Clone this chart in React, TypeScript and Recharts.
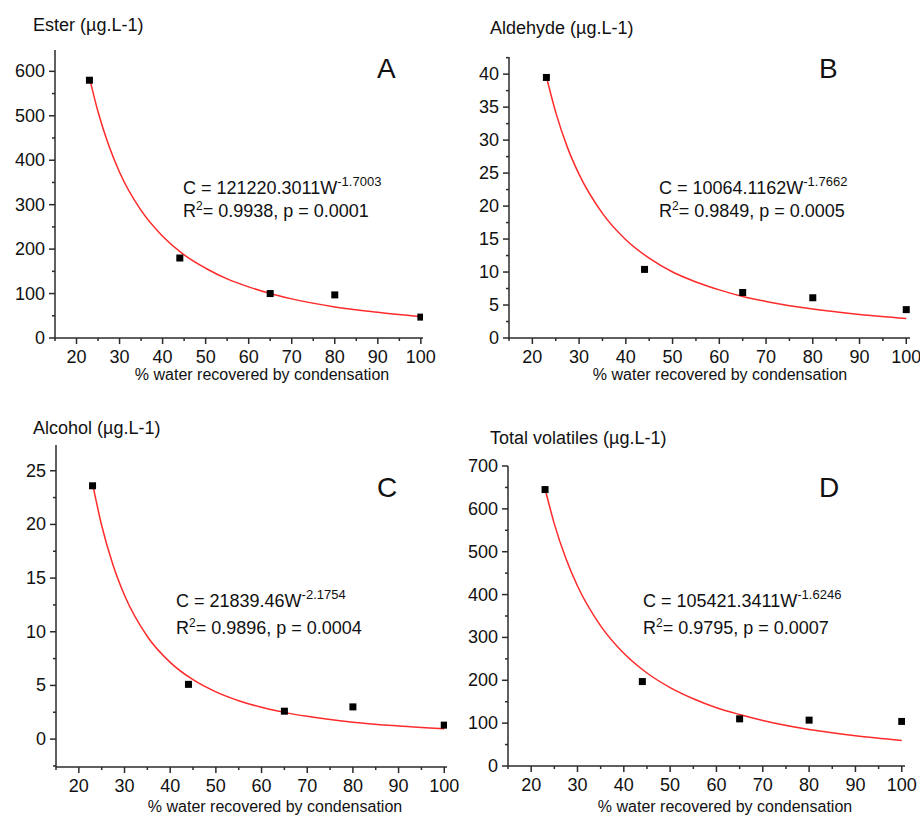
import { ComposedChart, Line, Scatter, XAxis, YAxis } from "recharts";

// measured concentrations at each % of water recovered
const W_POINTS = [23, 44, 65, 80, 100];
const ESTER = [580, 180, 100, 97, 47];
const ALDEHYDE = [39.5, 10.4, 6.9, 6.1, 4.3];
const ALCOHOL = [23.6, 5.1, 2.6, 3.0, 1.3];
const TOTAL = [645, 197, 110, 107, 104];

// fitted power curves
const FIT_W = [23, 25, 27.5, 30, 35, 40, 45, 50, 55, 60, 65, 70, 80, 90, 100];
const ESTER_FIT = [586, 509, 433, 373, 287, 229, 187, 157, 133, 115, 100, 88, 70, 58, 48];
const ALDEHYDE_FIT = [39.6, 34.2, 28.9, 24.8, 18.9, 14.9, 12.1, 10.0, 8.5, 7.3, 6.3, 5.55, 4.38, 3.56, 2.95];
const ALCOHOL_FIT = [23.8, 19.9, 16.2, 13.4, 9.56, 7.15, 5.53, 4.4, 3.58, 2.96, 2.49, 2.12, 1.58, 1.23, 0.97];
const TOTAL_FIT = [647, 565, 484, 420, 327, 263, 217, 183, 157, 136, 120, 106, 85, 70.5, 59.4];

const X_TICKS = [15, 20, 25, 30, 35, 40, 45, 50, 55, 60, 65, 70, 75, 80, 85, 90, 95, 100];
const ESTER_TICKS = [0, 50, 100, 150, 200, 250, 300, 350, 400, 450, 500, 550, 600];
const ALDEHYDE_TICKS = [0, 2.5, 5, 7.5, 10, 12.5, 15, 17.5, 20, 22.5, 25, 27.5, 30, 32.5, 35, 37.5, 40, 42.5];
const ALCOHOL_TICKS = [-2.5, 0, 2.5, 5, 7.5, 10, 12.5, 15, 17.5, 20, 22.5, 25];
const TOTAL_TICKS = [0, 50, 100, 150, 200, 250, 300, 350, 400, 450, 500, 550, 600, 650, 700];

const FONT = "'Liberation Sans', Arial, Helvetica, sans-serif";
const AXIS = "#2b2b2b";
const RED = "#ff2a2a";
const X_LABEL = "% water recovered by condensation";

const toRows = (xs: number[], ys: number[]) => xs.map((x, i) => ({ x, y: ys[i] }));

type Panel = {
  key: string;
  title: string;
  letter: string;
  eq: string;
  exp: string;
  stats: string;
  points: number[];
  fit: number[];
  yTicks: number[];
  yMajor: number;
  xDomain: [number, number];
  yDomain: [number, number];
  plot: { x0: number; x1: number; y0: number; y1: number };
  titlePos: [number, number];
  letterPos: [number, number];
  eqPos: [number, number, number];
  xLabelPos: [number, number];
};

const PANELS: Panel[] = [
  {
    key: "A",
    title: "Ester (µg.L-1)",
    letter: "A",
    eq: "C = 121220.3011W",
    exp: "-1.7003",
    stats: "= 0.9938, p = 0.0001",
    points: ESTER,
    fit: ESTER_FIT,
    yTicks: ESTER_TICKS,
    yMajor: 100,
    xDomain: [15, 100.5],
    yDomain: [0, 648],
    plot: { x0: 55, x1: 423, y0: 50, y1: 338 },
    titlePos: [33, 31],
    letterPos: [377, 78],
    eqPos: [183, 194, 217],
    xLabelPos: [262, 380],
  },
  {
    key: "B",
    title: "Aldehyde (µg.L-1)",
    letter: "B",
    eq: "C = 10064.1162W",
    exp: "-1.7662",
    stats: "= 0.9849, p = 0.0005",
    points: ALDEHYDE,
    fit: ALDEHYDE_FIT,
    yTicks: ALDEHYDE_TICKS,
    yMajor: 5,
    xDomain: [15, 100.8],
    yDomain: [0, 42.6],
    plot: { x0: 509, x1: 910, y0: 57, y1: 338 },
    titlePos: [490, 34],
    letterPos: [819, 78],
    eqPos: [659, 194, 217],
    xLabelPos: [720, 380],
  },
  {
    key: "C",
    title: "Alcohol (µg.L-1)",
    letter: "C",
    eq: "C = 21839.46W",
    exp: "-2.1754",
    stats: "= 0.9896, p = 0.0004",
    points: ALCOHOL,
    fit: ALCOHOL_FIT,
    yTicks: ALCOHOL_TICKS,
    yMajor: 5,
    xDomain: [15, 100.6],
    yDomain: [-2.6, 27.4],
    plot: { x0: 56, x1: 447, y0: 445, y1: 767 },
    titlePos: [33, 434],
    letterPos: [377, 497],
    eqPos: [176, 607, 634],
    xLabelPos: [275, 812],
  },
  {
    key: "D",
    title: "Total volatiles (µg.L-1)",
    letter: "D",
    eq: "C = 105421.3411W",
    exp: "-1.6246",
    stats: "= 0.9795, p = 0.0007",
    points: TOTAL,
    fit: TOTAL_FIT,
    yTicks: TOTAL_TICKS,
    yMajor: 100,
    xDomain: [15, 100.7],
    yDomain: [0, 700],
    plot: { x0: 508, x1: 905, y0: 466, y1: 766 },
    titlePos: [490, 444],
    letterPos: [819, 497],
    eqPos: [643, 607, 634],
    xLabelPos: [725, 812],
  },
];

const isMajor = (v: number, step: number) => Math.abs(v / step - Math.round(v / step)) < 1e-6;

function XTick(props: any) {
  const { x, y, payload } = props;
  const major = isMajor(payload.value, 10);
  return (
    <g>
      <line x1={x} x2={x} y1={y} y2={y + (major ? 6 : 3)} stroke={AXIS} strokeWidth={1.5} />
      {major && (
        <text x={x} y={y + 25} textAnchor="middle" fontSize={18} fontFamily={FONT} fill="#111">
          {payload.value}
        </text>
      )}
    </g>
  );
}

const makeYTick = (step: number) => (props: any) => {
  const { x, y, payload } = props;
  const major = isMajor(payload.value, step);
  return (
    <g>
      <line x1={x - (major ? 6 : 3)} x2={x} y1={y} y2={y} stroke={AXIS} strokeWidth={1.5} />
      {major && (
        <text x={x - 10} y={y + 6} textAnchor="end" fontSize={18} fontFamily={FONT} fill="#111">
          {payload.value}
        </text>
      )}
    </g>
  );
};

function Square(props: any) {
  const { cx, cy } = props;
  if (cx == null || cy == null) return null;
  return <rect x={cx - 3.5} y={cy - 3.5} width={7} height={7} fill="#000" />;
}

function PanelChart({ p }: { p: Panel }) {
  const { x0, x1, y0, y1 } = p.plot;
  const left = x0 - 60;
  const top = y0 - 10;
  const width = x1 - x0 + 80;
  const height = y1 - y0 + 60;
  const xTicks = X_TICKS.filter((t) => t >= p.xDomain[0] && t <= p.xDomain[1]);
  return (
    <div style={{ position: "absolute", left, top, width, height }}>
      <ComposedChart width={width} height={height} margin={{ top: 10, right: 20, bottom: 0, left: 0 }}>
        <XAxis
          dataKey="x"
          type="number"
          domain={p.xDomain}
          ticks={xTicks}
          interval={0}
          height={50}
          tickSize={0}
          tickMargin={0}
          tick={XTick}
          axisLine={{ stroke: AXIS, strokeWidth: 1.5 }}
          allowDataOverflow
        />
        <YAxis
          type="number"
          domain={p.yDomain}
          ticks={p.yTicks}
          interval={0}
          width={60}
          tickSize={0}
          tickMargin={0}
          tick={makeYTick(p.yMajor)}
          axisLine={{ stroke: AXIS, strokeWidth: 1.5 }}
          allowDataOverflow
        />
        <Line
          data={toRows(FIT_W, p.fit)}
          dataKey="y"
          type="monotone"
          stroke={RED}
          strokeWidth={1.5}
          dot={false}
          activeDot={false}
          isAnimationActive={false}
        />
        <Scatter data={toRows(W_POINTS, p.points)} dataKey="y" shape={Square} isAnimationActive={false} />
      </ComposedChart>
    </div>
  );
}

export default function App() {
  return (
    <div style={{ position: "absolute", left: 0, top: 0, width: 920, height: 816, background: "#fff", fontFamily: FONT }}>
      {PANELS.map((p) => (
        <PanelChart key={p.key} p={p} />
      ))}
      <svg width={920} height={816} style={{ position: "absolute", left: 0, top: 0, pointerEvents: "none" }}>
        {PANELS.map((p) => (
          <g key={p.key} fontFamily={FONT} fill="#111">
            <text x={p.titlePos[0]} y={p.titlePos[1]} fontSize={18}>
              {p.title}
            </text>
            <text x={p.letterPos[0]} y={p.letterPos[1]} fontSize={28}>
              {p.letter}
            </text>
            <text x={p.eqPos[0]} y={p.eqPos[1]} fontSize={18}>
              {p.eq}
              <tspan dy={-8} fontSize={13}>
                {p.exp}
              </tspan>
            </text>
            <text x={p.eqPos[0]} y={p.eqPos[2]} fontSize={18}>
              R<tspan dy={-7} fontSize={12}>2</tspan>
              <tspan dy={7}>{p.stats}</tspan>
            </text>
            <text x={p.xLabelPos[0]} y={p.xLabelPos[1]} fontSize={16} textAnchor="middle">
              {X_LABEL}
            </text>
          </g>
        ))}
      </svg>
    </div>
  );
}
